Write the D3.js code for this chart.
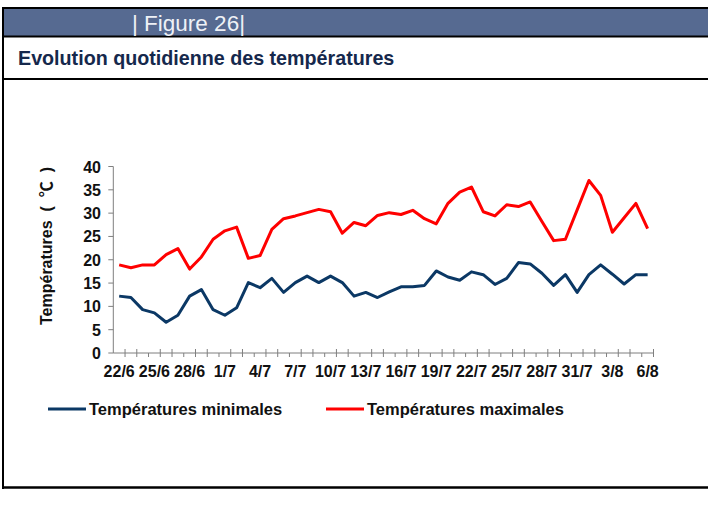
<!DOCTYPE html>
<html>
<head>
<meta charset="utf-8">
<script src="https://cdn.jsdelivr.net/npm/d3@7"></script>
<style>
  body { margin: 0; background: #fff; }
  svg { display: block; font-family: "Liberation Sans", Arial, "Noto Sans CJK SC", sans-serif; }
</style>
</head>
<body>
<svg id="chart" width="708" height="509"></svg>
<script>
// === Daily temperature chart (Figure 26) ===

// one category per day, 22/6 -> 6/8
const days = [
  "22/6","23/6","24/6","25/6","26/6","27/6","28/6","29/6","30/6",
  "1/7","2/7","3/7","4/7","5/7","6/7","7/7","8/7","9/7","10/7","11/7",
  "12/7","13/7","14/7","15/7","16/7","17/7","18/7","19/7","20/7","21/7",
  "22/7","23/7","24/7","25/7","26/7","27/7","28/7","29/7","30/7","31/7",
  "1/8","2/8","3/8","4/8","5/8","6/8"
];

const tMin = [
  12.2, 11.9, 9.3, 8.6, 6.6, 8.1, 12.2, 13.6, 9.3, 8.1,
  9.7, 15.1, 14.0, 16.0, 13.0, 15.1, 16.5, 15.1, 16.5, 15.1,
  12.2, 13.0, 11.9, 13.1, 14.2, 14.2, 14.5, 17.6, 16.3, 15.6,
  17.4, 16.8, 14.7, 16.0, 19.4, 19.1, 17.1, 14.5, 16.8, 13.0,
  16.8, 18.9, 16.9, 14.8, 16.8, 16.8
];

const tMax = [
  18.9, 18.3, 18.9, 18.9, 21.1, 22.4, 18.0, 20.6, 24.4, 26.2,
  27.0, 20.3, 20.9, 26.5, 28.8, 29.4, 30.1, 30.8, 30.3, 25.7,
  28.0, 27.3, 29.5, 30.1, 29.7, 30.6, 28.8, 27.7, 32.1, 34.5,
  35.6, 30.3, 29.4, 31.8, 31.4, 32.4, 28.2, 24.1, 24.4, 30.7,
  37.0, 33.8, 25.9, 29.0, 32.1, 26.7
];

const yTicks = [0, 5, 10, 15, 20, 25, 30, 35, 40];

const series = [
  { name: "Températures minimales", values: tMin, color: "#0b3865" },
  { name: "Températures maximales", values: tMax, color: "#ff0000" }
];

const svg = d3.select("#chart");
const fs = 16; // axis / legend font size

// --- frame ---
svg.append("rect").attr("x", 3).attr("y", 9).attr("width", 705).attr("height", 27)
  .attr("fill", "#566a91");
[8, 36.5, 79].forEach(yy => {
  svg.append("line").attr("x1", 2).attr("x2", 708).attr("y1", yy).attr("y2", yy)
    .attr("stroke", "#000").attr("stroke-width", 2);
});
svg.append("line").attr("x1", 2).attr("x2", 708).attr("y1", 487.5).attr("y2", 487.5)
  .attr("stroke", "#000").attr("stroke-width", 2.5);
svg.append("line").attr("x1", 3).attr("x2", 3).attr("y1", 7).attr("y2", 489)
  .attr("stroke", "#000").attr("stroke-width", 2);

svg.append("text").attr("x", 132).attr("y", 31)
  .attr("font-size", 22.5).attr("fill", "#eef1f6")
  .text("| Figure 26|");

svg.append("text").attr("x", 18).attr("y", 65)
  .attr("font-size", 19.7).attr("font-weight", "bold").attr("fill", "#15284c")
  .text("Evolution quotidienne des températures");

// --- scales ---
const x = d3.scaleBand().domain(days).range([113.3, 653.5]).padding(0);
const y = d3.scaleLinear().domain([0, 40]).range([353, 166.5]);
const cx = d => x(d) + x.bandwidth() / 2;

const axisColor = "#7f7f7f";
const g = svg.append("g");

// y axis
g.append("line").attr("x1", x.range()[0]).attr("x2", x.range()[0])
  .attr("y1", y(0)).attr("y2", y(40)).attr("stroke", axisColor);
g.selectAll("line.ytick").data(yTicks).enter().append("line")
  .attr("x1", x.range()[0] - 5).attr("x2", x.range()[0])
  .attr("y1", d => y(d)).attr("y2", d => y(d)).attr("stroke", axisColor);
g.selectAll("text.ylab").data(yTicks).enter().append("text")
  .attr("x", 101).attr("y", d => y(d) + 6)
  .attr("text-anchor", "end").attr("font-size", fs).attr("font-weight", "bold")
  .attr("fill", "#111").text(d => d);

g.append("text")
  .attr("transform", "translate(52," + 246 + ") rotate(-90)")
  .attr("text-anchor", "middle").attr("font-size", fs).attr("font-weight", "bold")
  .attr("fill", "#111").attr("xml:space", "preserve")
  .text("Températures  (  ℃  )");

// x axis
g.append("line").attr("x1", x.range()[0]).attr("x2", x.range()[1])
  .attr("y1", y(0)).attr("y2", y(0)).attr("stroke", axisColor);
const bounds = d3.range(1, days.length + 1);
g.selectAll("line.xtick").data(bounds).enter().append("line")
  .attr("x1", k => x.range()[0] + k * x.bandwidth())
  .attr("x2", k => x.range()[0] + k * x.bandwidth())
  .attr("y1", k => (k % 3 === 0 ? y(0) : y(0) - 4))
  .attr("y2", y(0) + 4)
  .attr("stroke", axisColor);
g.selectAll("text.xlab").data(days.filter((d, i) => i % 3 === 0)).enter().append("text")
  .attr("x", d => cx(d)).attr("y", 377)
  .attr("text-anchor", "middle").attr("font-size", fs).attr("font-weight", "bold")
  .attr("fill", "#111").text(d => d);

// --- lines ---
const line = d3.line().x((v, i) => cx(days[i])).y(v => y(v));
g.selectAll("path.series").data(series).enter().append("path")
  .attr("d", s => line(s.values))
  .attr("fill", "none").attr("stroke", s => s.color)
  .attr("stroke-width", 3).attr("stroke-linejoin", "round");

// --- legend ---
const legX = [48, 326];
const leg = svg.selectAll("g.leg").data(series).enter().append("g")
  .attr("transform", (s, i) => "translate(" + legX[i] + ",409)");
leg.append("line").attr("x1", 0).attr("x2", 38).attr("y1", 0).attr("y2", 0)
  .attr("stroke", s => s.color).attr("stroke-width", 3);
leg.append("text").attr("x", 41).attr("y", 6)
  .attr("font-size", 16.5).attr("font-weight", "bold").attr("fill", "#111")
  .text(s => s.name);
</script>
</body>
</html>
